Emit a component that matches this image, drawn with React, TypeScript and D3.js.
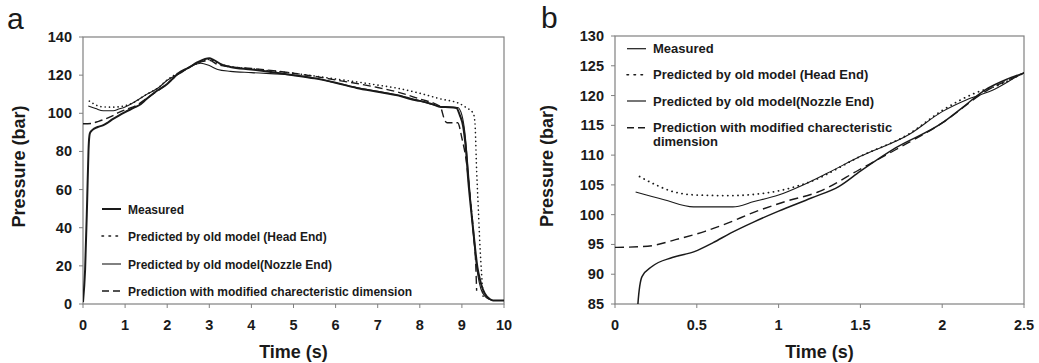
import React from "react";
import * as d3 from "d3";

type Pt = [number, number];

// Time (s), Pressure (bar)
const measured: Pt[] = [[0,1],[0.05,18],[0.1,55],[0.13,80],[0.14,85],[0.165,89.6],[0.226,91.3],[0.35,92.8],[0.485,93.8],[0.6,95.3],[0.706,96.9],[0.85,98.8],[1.0,100.6],[1.2,102.8],[1.37,104.75],[1.5,107.3],[1.715,111.2],[2.0,115.4],[2.12,117.9],[2.265,121],[2.4,122.8],[2.5,123.8],[2.7,126.5],[2.9,128.5],[3.0,128.8],[3.1,128],[3.3,125.5],[3.5,124.3],[4,123],[4.5,121.5],[5,120],[5.5,118.3],[6,116],[6.5,113.3],[7,111.3],[7.5,109.3],[7.8,107.3],[8,106.5],[8.3,104.8],[8.5,103.3],[8.7,103.2],[8.87,102.8],[8.95,99],[9.03,93],[9.1,80],[9.15,65],[9.23,47],[9.31,30],[9.37,19],[9.43,12.7],[9.5,7.5],[9.59,4],[9.67,2.5],[9.74,1.9],[10,1.9]];

const headEnd: Pt[] = [[0.15,106.4],[0.25,105],[0.35,103.9],[0.5,103.3],[0.7,103.2],[0.85,103.4],[1.0,104.0],[1.2,105.6],[1.5,109.8],[1.8,113.6],[2.0,117.5],[2.2,120.4],[2.35,121.8],[2.5,123.8],[2.7,126],[2.9,127.8],[3.0,128.3],[3.2,126.3],[3.5,124.5],[4,123.3],[5,121],[6,118],[7,114.8],[7.5,113],[8,110.5],[8.5,107.5],[8.95,105],[9.1,103],[9.27,100],[9.31,95],[9.35,70],[9.39,50],[9.43,30],[9.47,15],[9.51,2]];

const nozzleEnd: Pt[] = [[0.126,103.8],[0.3,102.5],[0.48,101.3],[0.72,101.3],[0.85,102.2],[1.0,103.3],[1.15,105],[1.3,107],[1.5,109.8],[1.8,113.5],[2.0,117.3],[2.15,119.3],[2.3,120.8],[2.5,123.8],[2.7,125.8],[2.8,126.2],[3.0,125],[3.2,123],[3.5,122],[4,121.3],[5,120],[5.5,118.5],[6,116],[6.5,113.5],[7,111.5],[7.5,109.3],[7.8,107.8],[8,106.5],[8.5,103.5],[8.9,103],[9.0,99],[9.07,90],[9.15,70],[9.22,50],[9.3,30],[9.38,15],[9.45,8],[9.55,4],[9.65,2.5],[9.75,1.8],[10,1.8]];

const modified: Pt[] = [[0,94.5],[0.2,94.7],[0.37,95.8],[0.55,97.2],[0.7,98.7],[0.84,100.3],[1.04,102.2],[1.25,103.9],[1.49,107.5],[1.715,110.9],[2.0,115.4],[2.265,120.7],[2.5,123.8],[2.7,126.3],[2.85,127.2],[3.0,127.8],[3.2,125.5],[3.5,124.3],[4,123.5],[5,121],[6,117.5],[7,113.5],[7.5,111],[8,107.5],[8.48,103.6],[8.6,96],[8.65,95],[8.9,95],[9.0,87],[9.11,74],[9.2,55],[9.27,39],[9.33,20],[9.35,7]];

const legendLabels = [
  "Measured",
  "Predicted by old model (Head End)",
  "Predicted by old model(Nozzle End)",
  "Prediction with modified charecteristic dimension",
];

const xTicksA = [0,1,2,3,4,5,6,7,8,9,10];
const yTicksA = [0,20,40,60,80,100,120,140];
const xTicksB = [0,0.5,1,1.5,2,2.5];
const yTicksB = [85,90,95,100,105,110,115,120,125,130];

const FONT = "'Liberation Sans', Arial, sans-serif";
const INK = "#1a1a1a";
const FRAME = "#808080";

type SeriesStyle = { data: Pt[]; width: number; dash?: string; cap?: string };

function Panel(props: {
  id: string; letter: string; letterX: number; letterY: number;
  left: number; right: number; top: number; bottom: number;
  xDomain: [number, number]; yDomain: [number, number];
  xTicks: number[]; yTicks: number[];
  series: SeriesStyle[];
  legend: { x: number; ys: number[]; size: number; wrap?: boolean; widths: number[] };
  ylabelX: number;
}) {
  const { left, right, top, bottom } = props;
  const x = d3.scaleLinear().domain(props.xDomain).range([left, right]);
  const y = d3.scaleLinear().domain(props.yDomain).range([bottom, top]);
  const line = d3.line<Pt>().x(d => x(d[0])).y(d => y(d[1])).curve(d3.curveMonotoneX);
  const cx = (left + right) / 2;
  const cy = (top + bottom) / 2;
  const lg = props.legend;
  return (
    <g>
      <defs>
        <clipPath id={"clip" + props.id}>
          <rect x={left} y={top} width={right - left} height={bottom - top} />
        </clipPath>
      </defs>
      <text x={props.letterX} y={props.letterY} fontFamily={FONT} fontSize={30} fill={INK}>{props.letter}</text>
      <rect x={left} y={top} width={right - left} height={bottom - top} fill="none" stroke={FRAME} strokeWidth={1.2} />
      {props.yTicks.map(t => (
        <g key={"y" + t}>
          <line x1={left - 4} x2={left} y1={y(t)} y2={y(t)} stroke={FRAME} strokeWidth={1} />
          <text x={left - 11} y={y(t) + 5} textAnchor="end" fontFamily={FONT} fontWeight="bold" fontSize={14.5} fill={INK}>{t}</text>
        </g>
      ))}
      {props.xTicks.map(t => (
        <g key={"x" + t}>
          <line x1={x(t)} x2={x(t)} y1={bottom} y2={bottom + 4} stroke={FRAME} strokeWidth={1} />
          <text x={x(t)} y={bottom + 26} textAnchor="middle" fontFamily={FONT} fontWeight="bold" fontSize={14.5} fill={INK}>{t}</text>
        </g>
      ))}
      <text x={cx} y={358} textAnchor="middle" fontFamily={FONT} fontWeight="bold" fontSize={18} fill={INK}>Time (s)</text>
      <text transform={`translate(${props.ylabelX},${cy - 4}) rotate(-90)`} textAnchor="middle" fontFamily={FONT} fontWeight="bold" fontSize={18} fill={INK}>Pressure (bar)</text>
      <g clipPath={`url(#clip${props.id})`}>
        {props.series.map((s, i) => (
          <path key={i} d={line(s.data) || ""} fill="none" stroke={INK} strokeWidth={s.width}
            strokeDasharray={s.dash} strokeLinecap={(s.cap as any) || "butt"} strokeLinejoin="round" />
        ))}
      </g>
      {legendLabels.map((lab, i) => {
        const s = props.series[i];
        const ly = lg.ys[i];
        const parts = lg.wrap && i === 3 ? ["Prediction with modified charecteristic", "dimension"] : [lab];
        return (
          <g key={"lg" + i}>
            <line x1={lg.x} x2={lg.x + 19} y1={ly} y2={ly} stroke={INK} strokeWidth={lg.widths[i]}
              strokeDasharray={i === 1 ? "1.5,5.5" : i === 3 ? "7,4" : undefined} strokeLinecap={i === 1 ? "round" : "butt"} />
            {parts.map((p, k) => (
              <text key={k} x={lg.x + 26} y={ly + 4.5 + k * 14} fontFamily={FONT} fontWeight="bold" fontSize={lg.size} fill={INK}>{p}</text>
            ))}
          </g>
        );
      })}
    </g>
  );
}

export default function App() {
  const seriesA: SeriesStyle[] = [
    { data: measured, width: 2 },
    { data: headEnd, width: 1.6, dash: "0.1,4.2", cap: "round" },
    { data: nozzleEnd, width: 1.1 },
    { data: modified, width: 1.4, dash: "8,4" },
  ];
  const seriesB: SeriesStyle[] = [
    { data: measured, width: 1.5 },
    { data: headEnd, width: 1.8, dash: "0.1,5", cap: "round" },
    { data: nozzleEnd, width: 1.1 },
    { data: modified, width: 1.4, dash: "9,5" },
  ];
  return (
    <svg width={1039} height={363} style={{ position: "absolute", left: 0, top: 0, background: "#fff" }}>
      <rect width={1039} height={363} fill="#fff" />
      <Panel id="a" letter="a" letterX={7} letterY={29}
        left={83} right={504} top={37} bottom={304}
        xDomain={[0, 10]} yDomain={[0, 140]} xTicks={xTicksA} yTicks={yTicksA}
        series={seriesA}
        legend={{ x: 102, ys: [209, 236, 264, 291], size: 12, widths: [2, 1.6, 1.1, 1.4] }}
        ylabelX={25} />
      <Panel id="b" letter="b" letterX={541} letterY={28}
        left={615} right={1024} top={36} bottom={304}
        xDomain={[0, 2.5]} yDomain={[85, 130]} xTicks={xTicksB} yTicks={yTicksB}
        series={seriesB}
        legend={{ x: 627, ys: [48.7, 74.7, 101, 127.7], size: 13, wrap: true, widths: [1.2, 1.6, 1.2, 1.4] }}
        ylabelX={553} />
    </svg>
  );
}
